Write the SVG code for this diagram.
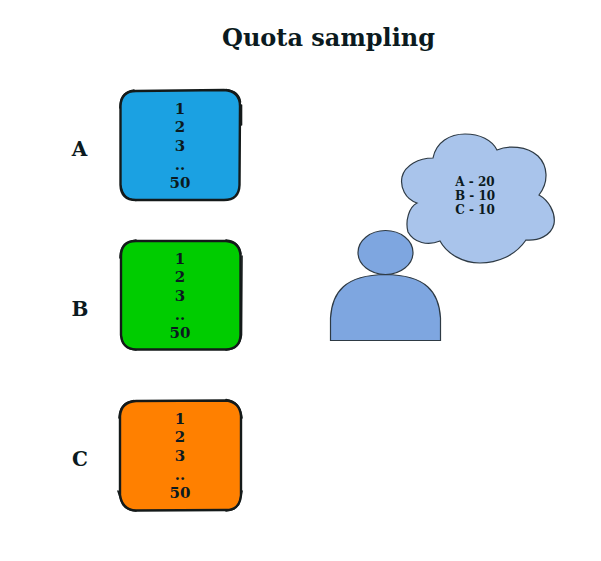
<svg xmlns="http://www.w3.org/2000/svg" width="601" height="561" viewBox="0 0 601 561">
<style>
text{font-family:"DejaVu Serif","Liberation Serif",serif;font-weight:bold;fill:#0b1a20;text-anchor:middle}
.t{font-size:24px}
.l{font-size:20px}
.n{font-size:15px}
.c{font-size:12px}
.box{stroke:#141a1a;stroke-width:2.4;stroke-linejoin:round}
.rough{stroke:#141a1a;stroke-width:1.6;fill:none;stroke-linecap:round}
.p{stroke:#2e3a44;stroke-width:1.2}
</style>
<rect width="601" height="561" fill="#fff"/>
<text class="t" x="328.500" y="46">Quota sampling</text>
<g id="label-a"><text class="l" x="79.500" y="156">A</text></g>
<g id="label-b"><text class="l" x="80" y="316">B</text></g>
<g id="label-c"><text class="l" x="80" y="466">C</text></g>
<g id="box-a">
<path class="box" fill="#1ba1e2" d="M136 91 L224 90 Q240 91 240 106 L239.500 185 Q239 200 224 200 L136 200 Q121 200 120.500 185 L120.500 106 Q121 91 136 91Z"/>
<path class="rough" d="M120 108 Q120 92 134 90 M226 89.500 Q239 91 240.500 102 M241.500 105 L241.500 125 M121 186 Q123 199 136 200.500"/>
<text class="n" x="180" y="114">1</text><text class="n" x="180" y="132">2</text><text class="n" x="180" y="151">3</text><text class="n" x="180" y="170">..</text><text class="n" x="180" y="188">50</text>
</g>
<g id="box-b">
<path class="box" fill="#00cc00" d="M136 241 L226 241 Q240 242 240.500 256 L240.500 335 Q240 349 226 349.500 L136 349.500 Q122 349 121 335 L121 256 Q121 241 136 241Z"/>
<path class="rough" d="M120 258 Q120 242 136 240 M226 240 Q239 241 241 254 M242 256 L241.500 335 Q240 349 226 350 M121.500 337 Q123 349 136 350"/>
<text class="n" x="180" y="264">1</text><text class="n" x="180" y="282">2</text><text class="n" x="180" y="301">3</text><text class="n" x="180" y="320">..</text><text class="n" x="180" y="338">50</text>
</g>
<g id="box-c">
<path class="box" fill="#ff8000" d="M136 401 L226 400.500 Q240 402 241 416 L241 495 Q240 510 226 510 L136 510.500 Q122 510 120 495 L120 416 Q121 402 136 401Z"/>
<path class="rough" d="M119 418 Q120 402 134 400.500 M226 399.500 Q240 401 242 418 M118 491 L120 497 Q123 510 136 511 M242 491 L240.500 498 Q239 510 226 511"/>
<text class="n" x="180" y="424">1</text><text class="n" x="180" y="442">2</text><text class="n" x="180" y="461">3</text><text class="n" x="180" y="480">..</text><text class="n" x="180" y="498">50</text>
</g>
<g id="person">
<ellipse class="p" cx="385.500" cy="252.500" rx="27.500" ry="22" fill="#7ea6e0"/>
<path class="p" fill="#7ea6e0" d="M330.500 340.500 L330.500 318 C332 292 345 275 385.500 274.500 C426 275 439 292 440.500 318 L440.500 340.500Z"/>
</g>
<g id="cloud">
<path class="p" fill="#a9c4eb" d="M433 158 C436 142 450 134 465 134 C480 134 492 140 497 150 C508 145 527 146 538 156 C548 166 549 182 539 195 C548 200 556 212 554 224 C551 236 538 241 526 240 C515 256 497 263 480 263 C463 263 447 254 440 241 C428 246 414 243 408 232 C405 221 409 207 417 203 C405 199 400 187 402 177 C405 165 419 158 433 158Z"/>
<text class="c" x="475" y="186">A - 20</text><text class="c" x="475" y="200">B - 10</text><text class="c" x="475" y="214">C - 10</text>
</g>
</svg>
